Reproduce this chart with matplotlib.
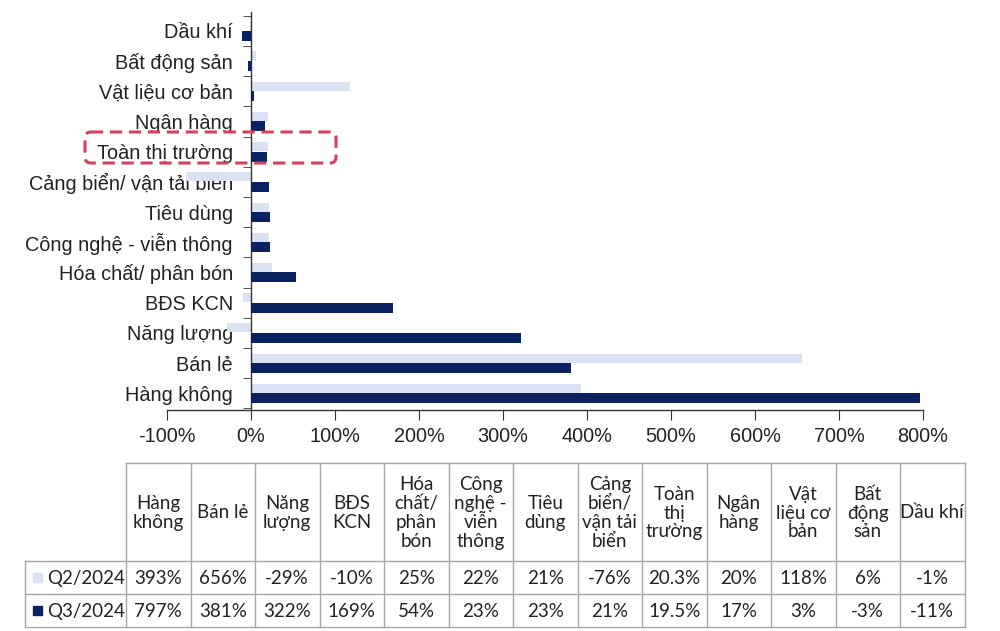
import matplotlib
matplotlib.use("Agg")
import matplotlib.pyplot as plt
from matplotlib.patches import FancyBboxPatch, Rectangle
from matplotlib.ticker import FuncFormatter
import numpy as np

plt.rcParams["font.family"] = ["Liberation Sans", "DejaVu Sans"]

# table order (left to right); bars are drawn bottom (first) to top (last)
sectors = ["Hàng không", "Bán lẻ", "Năng lượng", "BĐS KCN", "Hóa chất/ phân bón",
           "Công nghệ - viễn thông", "Tiêu dùng", "Cảng biển/ vận tải biển",
           "Toàn thị trường", "Ngân hàng", "Vật liệu cơ bản", "Bất động sản", "Dầu khí"]
headers = ["Hàng\nkhông", "Bán lẻ", "Năng\nlượng", "BĐS\nKCN", "Hóa\nchất/\nphân\nbón",
           "Công\nnghệ -\nviễn\nthông", "Tiêu\ndùng", "Cảng\nbiển/\nvận tải\nbiển",
           "Toàn\nthị\ntrường", "Ngân\nhàng", "Vật\nliệu cơ\nbản", "Bất\nđộng\nsản", "Dầu khí"]
q2 = [393, 656, -29, -10, 25, 22, 21, -76, 20.3, 20, 118, 6, -1]
q3 = [797, 381, 322, 169, 54, 23, 23, 21, 19.5, 17, 3, -3, -11]
q2_txt = ["393%", "656%", "-29%", "-10%", "25%", "22%", "21%", "-76%", "20.3%", "20%", "118%", "6%", "-1%"]
q3_txt = ["797%", "381%", "322%", "169%", "54%", "23%", "23%", "21%", "19.5%", "17%", "3%", "-3%", "-11%"]
series = ["Q2/2024", "Q3/2024"]

light = "#d9e1f2"
navy = "#0b2262"
txt_c = "#222222"
W, H = 1000, 631

fig = plt.figure(figsize=(10, 6.31), dpi=100)

# ---- bar chart ----
ax = fig.add_axes([167 / W, (H - 410) / H, (923 - 167) / W, 398 / H])
y = np.arange(len(sectors))
ax.barh(y + 0.165, q2, height=0.3, color=light, zorder=2)
ax.barh(y - 0.165, q3, height=0.33, color=navy, zorder=3)

ax.set_xlim(-100, 800)
ax.set_ylim(-0.55, 12.62)
ax.set_xticks(np.arange(-100, 801, 100))
ax.xaxis.set_major_formatter(FuncFormatter(lambda v, p: f"{v:.0f}%"))
ax.set_yticks(y)
ax.set_yticklabels(sectors)
ax.set_yticks(np.arange(-0.5, 12.6, 1), minor=True)

for s in ["top", "right"]:
    ax.spines[s].set_visible(False)
ax.spines["left"].set_position(("data", 0))
for s in ["left", "bottom"]:
    ax.spines[s].set_color("#333333")
    ax.spines[s].set_linewidth(1.0)

ax.tick_params(axis="y", which="major", length=0, pad=13,
               labelsize=14.3, labelcolor=txt_c)
ax.tick_params(axis="y", which="minor", length=6, color="#333333")
ax.tick_params(axis="x", length=7, color="#333333", labelsize=14.3,
               labelcolor=txt_c, pad=5)

# ---- overlay in pixel coordinates: highlight box + table ----
ov = fig.add_axes([0, 0, 1, 1], zorder=5)
ov.set_xlim(0, W)
ov.set_ylim(H, 0)
ov.axis("off")
ov.patch.set_alpha(0)

ov.add_patch(FancyBboxPatch((89, 136), 243, 23, boxstyle="round,pad=4,rounding_size=6",
                            fill=False, edgecolor="#d6405c", linewidth=2.2,
                            linestyle=(0, (4, 2.2))))

tfont = dict(family="Lato", fontsize=13.5, color=txt_c)
grid_c = "#a6a6a6"
x0, cw = 126, 64.5
top, hb, mid, bot = 463, 561, 594, 627
ncol = len(headers)
x_end = x0 + ncol * cw

# horizontal lines
ov.plot([x0, x_end], [top, top], color=grid_c, lw=1)
for yy in [hb, mid, bot]:
    ov.plot([25, x_end], [yy, yy], color=grid_c, lw=1)
# vertical lines
ov.plot([25, 25], [hb, bot], color=grid_c, lw=1)
for i in range(ncol + 1):
    xx = x0 + i * cw
    ov.plot([xx, xx], [top, bot], color=grid_c, lw=1)

for i in range(ncol):
    cx = x0 + (i + 0.5) * cw
    ov.text(cx, (top + hb) / 2 + 1, headers[i], ha="center", va="center",
            linespacing=1.12, **tfont)
    ov.text(cx, (hb + mid) / 2 + 1, q2_txt[i], ha="center", va="center", **tfont)
    ov.text(cx, (mid + bot) / 2 + 1, q3_txt[i], ha="center", va="center", **tfont)

for (r0, r1), name, col in zip([(hb, mid), (mid, bot)], series, [light, navy]):
    cy = (r0 + r1) / 2
    ov.add_patch(Rectangle((33, cy - 4.5), 9, 9, color=col))
    ov.text(47, cy + 1, name, ha="left", va="center", **tfont)

fig.savefig("out.png", dpi=100)
